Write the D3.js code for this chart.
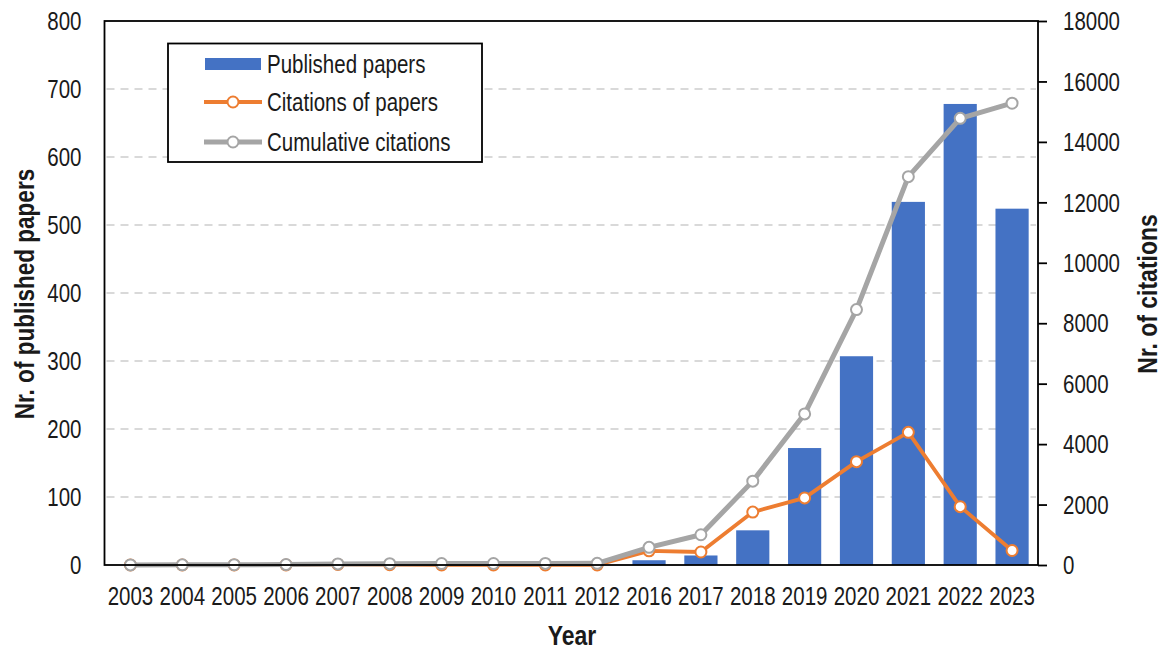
<!DOCTYPE html>
<html>
<head>
<meta charset="utf-8">
<script src="https://cdn.jsdelivr.net/npm/d3@7"></script>
<style>
  html, body { margin: 0; padding: 0; background: #fff; }
  svg text { font-family: "Liberation Sans", Arial, sans-serif; fill: #1a1a1a; }
</style>
</head>
<body>
<svg id="chart" width="1162" height="652"></svg>
<script>
const years = ["2003","2004","2005","2006","2007","2008","2009","2010","2011","2012","2016","2017","2018","2019","2020","2021","2022","2023"];
const papers = [0,0,0,0,0,0,0,0,0,0,7,14,51,172,307,534,678,524];
const citations = [0,0,2,1,18,10,3,2,2,2,470,430,1750,2220,3420,4390,1930,480];
const cumulative = [2,5,10,15,35,45,48,50,52,55,585,1000,2775,5000,8450,12850,14780,15280];
const leftTicks = [0,100,200,300,400,500,600,700,800];
const rightTicks = [0,2000,4000,6000,8000,10000,12000,14000,16000,18000];
const seriesNames = ["Published papers","Citations of papers","Cumulative citations"];

const C_BAR = "#4472C4", C_ORANGE = "#ED7D31", C_GRAY = "#A5A5A5";
const NARROW = 0.82;

const svg = d3.select("#chart");
const L = 104.5, R = 1038, T = 21, B = 565;

const x = d3.scaleBand().domain(years).range([L, R]).paddingInner(0.36).paddingOuter(0.18);
const xc = d => x(d) + x.bandwidth() / 2;
const yL = d3.scaleLinear().domain([0, 800]).range([B, T]);
const yR = d3.scaleLinear().domain([0, 18000]).range([B, T]);

// gridlines
svg.append("g").selectAll("line").data(leftTicks.filter(v => v > 0 && v < 800)).join("line")
  .attr("x1", L + 2).attr("x2", R - 2)
  .attr("y1", d => yL(d)).attr("y2", d => yL(d))
  .attr("stroke", "#D9D9D9").attr("stroke-width", 2).attr("stroke-dasharray", "8,6");

// bars
svg.append("g").selectAll("rect").data(years.map((y, i) => ({y, v: papers[i]}))).join("rect")
  .attr("x", d => x(d.y)).attr("width", x.bandwidth())
  .attr("y", d => yL(d.v)).attr("height", d => B - yL(d.v))
  .attr("fill", C_BAR);

// lines
function drawLine(vals, color, width) {
  const pts = years.map((y, i) => [xc(y), yR(vals[i])]);
  svg.append("path").datum(pts)
    .attr("d", d3.line())
    .attr("fill", "none").attr("stroke", color).attr("stroke-width", width)
    .attr("stroke-linejoin", "round");
  svg.append("g").selectAll("circle").data(pts).join("circle")
    .attr("cx", d => d[0]).attr("cy", d => d[1]).attr("r", 5.5)
    .attr("fill", "#fff").attr("stroke", color).attr("stroke-width", 2);
}
drawLine(citations, C_ORANGE, 3.8);
drawLine(cumulative, C_GRAY, 5);

// plot border
svg.append("rect").attr("x", L).attr("y", T).attr("width", R - L).attr("height", B - T)
  .attr("fill", "none").attr("stroke", "#000").attr("stroke-width", 1.8);

// left axis labels
const gl = svg.append("g").attr("transform", `translate(${L},0)`)
  .call(d3.axisLeft(yL).tickValues(leftTicks).tickSize(0).tickPadding(0));
gl.select(".domain").remove();
gl.selectAll("text").attr("font-size", 25).attr("dy", "0.35em")
  .attr("x", -23 / NARROW).attr("transform", `scale(${NARROW},1)`)
  .attr("fill", "#1a1a1a");

// right axis
const gr = svg.append("g").attr("transform", `translate(${R},0)`)
  .call(d3.axisRight(yR).tickValues(rightTicks).tickFormat(d3.format("d")).tickSize(9).tickPadding(0));
gr.select(".domain").remove();
gr.selectAll("line").attr("stroke", "#000").attr("stroke-width", 1.8);
gr.selectAll("text").attr("font-size", 25).attr("dy", "0.35em")
  .attr("x", 25 / NARROW).attr("transform", `scale(${NARROW},1)`)
  .attr("fill", "#1a1a1a");

// bottom axis labels
const gb = svg.append("g").attr("transform", `translate(0,${B})`)
  .call(d3.axisBottom(x).tickSize(0).tickPadding(0));
gb.select(".domain").remove();
gb.selectAll("text").attr("font-size", 25).attr("dy", 0).attr("y", 40)
  .attr("transform", `scale(${NARROW},1)`).attr("fill", "#1a1a1a");

// axis titles
function narrowText(xp, yp, rot, txt, size, weight) {
  svg.append("text")
    .attr("transform", `translate(${xp},${yp}) rotate(${rot}) scale(${NARROW},1)`)
    .attr("text-anchor", "middle").attr("font-size", size).attr("font-weight", weight)
    .text(txt);
}
narrowText(34, 294, -90, "Nr. of published papers", 27.5, "bold");
narrowText(1157, 294, -90, "Nr. of citations", 28, "bold");
narrowText(572, 645, 0, "Year", 28, "bold");

// legend
const lg = svg.append("g");
lg.append("rect").attr("x", 168).attr("y", 43.5).attr("width", 314).attr("height", 118.5)
  .attr("fill", "#fff").attr("stroke", "#000").attr("stroke-width", 1.8);
const rowY = [64, 102, 142];
lg.append("rect").attr("x", 205).attr("y", rowY[0] - 6).attr("width", 56).attr("height", 12).attr("fill", C_BAR);
[[C_ORANGE, 3.8, rowY[1]], [C_GRAY, 5, rowY[2]]].forEach(([c, w, yy]) => {
  lg.append("line").attr("x1", 204).attr("x2", 262).attr("y1", yy).attr("y2", yy)
    .attr("stroke", c).attr("stroke-width", w);
  lg.append("circle").attr("cx", 233).attr("cy", yy).attr("r", 5.5)
    .attr("fill", "#fff").attr("stroke", c).attr("stroke-width", 2);
});
seriesNames.forEach((n, i) => {
  lg.append("text").attr("transform", `translate(267,${rowY[i] + 9}) scale(${NARROW},1)`)
    .attr("font-size", 25).text(n);
});
</script>
</body>
</html>
